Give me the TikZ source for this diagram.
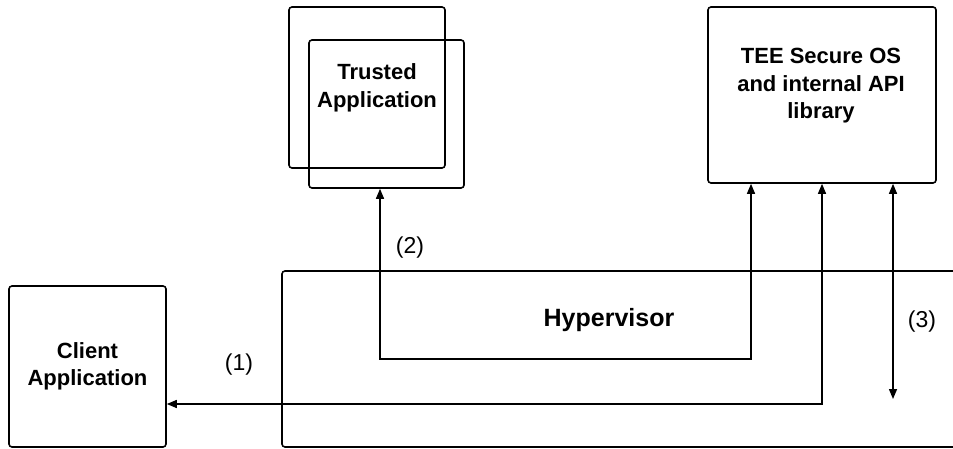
\documentclass[tikz,border=0pt]{standalone}
\usepackage{fontspec}
\setmainfont{Liberation Sans}
\usetikzlibrary{arrows.meta}
\begin{document}
\begin{tikzpicture}[x=1pt,y=-1pt,
  box/.style={draw, line width=1.6pt, rounded corners=3pt, inner sep=0pt, align=center,
    font=\fontsize{22}{27.5}\selectfont\bfseries},
  boxtext/.style={inner sep=0pt, align=center, font=\fontsize{22}{27.5}\selectfont\bfseries},
  conn/.style={line width=1.4pt, {Triangle[length=10pt,width=8pt]}-{Triangle[length=10pt,width=8pt]}},
  lbl/.style={inner sep=0pt, font=\fontsize{23}{28}\selectfont}]
\useasboundingbox (0,0) rectangle (953,449);
% Hypervisor (open to the right)
\draw[line width=1.6pt, rounded corners=3pt] (965,271) -- (282,271) -- (282,447) -- (965,447);
\node[inner sep=0pt, font=\fontsize{25}{30}\selectfont\bfseries] (hyp) at (609,320) {Hypervisor};
% Boxes
\node[box, minimum width=157pt, minimum height=161pt] (client) at (87.5,366.5) {Client\\Application};
\node[box, minimum width=156pt, minimum height=161pt] (taback) at (367,87.5) {};
\node[box, minimum width=155pt, minimum height=148pt] (ta) at (386.5,114) {};
\node[boxtext] (tatext) at (377,88) {Trusted\\Application};
\node[box, minimum width=228pt, minimum height=176pt] (tee) at (822,95) {};
\node[boxtext] (teetext) at (821,86) {TEE Secure OS\\and internal API\\library};
% Connectors
\coordinate (a2) at (380,359);
\coordinate (b2) at (751,359);
\coordinate (b1) at (822,404);
\coordinate (b3) at (893,399);
\draw[conn] (ta.south -| a2) -- (a2) -- (b2) -- (tee.south -| b2);
\draw[conn] (client.east |- b1) -- (b1) -- (tee.south -| b1);
\draw[conn] (tee.south -| b3) -- (b3);
% Labels
\node[lbl] (l1) at (239,365) {(1)};
\node[lbl] (l2) at (410,248) {(2)};
\node[lbl] (l3) at (922,322) {(3)};
\end{tikzpicture}
\end{document}
